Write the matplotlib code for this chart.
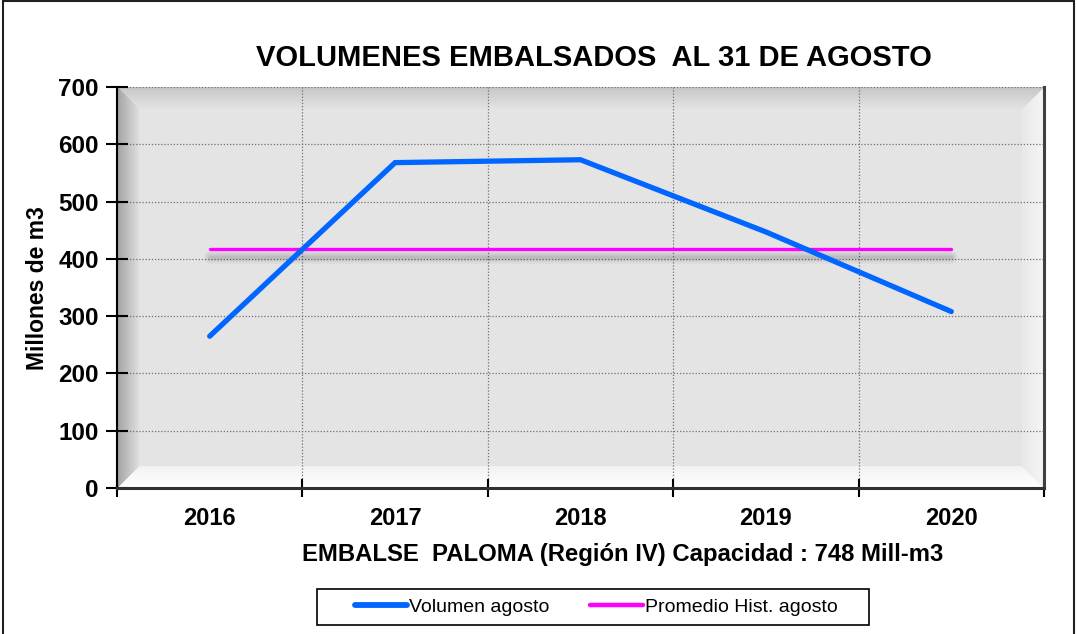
import numpy as np
import matplotlib
matplotlib.use("Agg")
import matplotlib.pyplot as plt
import matplotlib.patheffects as pe
from matplotlib.patches import Rectangle
from matplotlib.lines import Line2D

years = ["2016", "2017", "2018", "2019", "2020"]
volumen = [265, 568, 573, 447, 308]
promedio = [417, 417, 417, 417, 417]

titulo = "VOLUMENES EMBALSADOS  AL 31 DE AGOSTO"
xlabel = "EMBALSE  PALOMA (Región IV) Capacidad : 748 Mill-m3"
ylabel = "Millones de m3"
serie1 = "Volumen agosto"
serie2 = "Promedio Hist. agosto"

plt.rcParams['font.family'] = ['Liberation Sans', 'DejaVu Sans']

W, H = 1077, 634
fig = plt.figure(figsize=(W / 100, H / 100), dpi=100)

# plot area in pixels
x0, x1, y0, y1 = 117, 1044, 87, 488
ax = fig.add_axes([x0 / W, 1 - y1 / H, (x1 - x0) / W, (y1 - y0) / H])

# beveled grey background
pw, ph = x1 - x0, y1 - y0
yy, xx = np.mgrid[0:ph, 0:pw].astype(float)
bev = 22.0
dl, dr, dt, db = xx, pw - 1 - xx, yy, ph - 1 - yy
dmin = np.minimum(np.minimum(dl, dr), np.minimum(dt, db))
img = np.full((ph, pw), 0.895)
t = np.clip(dmin / bev, 0, 1)
inb = dmin < bev
left = inb & (dl == dmin)
top = inb & (dt == dmin) & ~left
right = inb & (dr == dmin) & ~left & ~top
bottom = inb & ~left & ~top & ~right
img[left] = (0.64 + (0.88 - 0.64) * t)[left]
img[top] = (0.78 + (0.895 - 0.78) * t)[top]
img[right] = (0.96 - (0.96 - 0.91) * t)[right]
img[bottom] = (1.0 - (1.0 - 0.95) * t)[bottom]
ax.imshow(np.dstack([img] * 3), extent=[0, 1, 0, 1], transform=ax.transAxes,
          aspect='auto', zorder=0, interpolation='bilinear')

x = np.arange(len(years))
shadow = [pe.SimpleLineShadow(offset=(0, -5.5), shadow_color='k', alpha=0.035, linewidth=w)
          for w in (9, 7, 5, 3.5, 2)]
ax.plot(x, promedio, color='#ff00ff', lw=2.4, zorder=3, solid_capstyle='round',
        path_effects=shadow + [pe.Normal()])
ax.plot(x, volumen, color='#0066ff', lw=3.8, zorder=4, solid_capstyle='round',
        solid_joinstyle='miter')

ax.set_xlim(-0.5, len(years) - 0.5)
ax.set_ylim(0, 700)
ax.set_yticks(range(0, 701, 100))
ax.set_xticks(np.arange(-0.5, len(years), 1.0))
ax.set_xticklabels([])
ax.set_xticks(x, minor=True)
ax.set_xticklabels(years, minor=True)
ax.tick_params(axis='x', which='minor', length=0, pad=14, labelsize=17)
ax.tick_params(axis='x', which='major', direction='inout', length=13, width=1.5)
ax.tick_params(axis='y', direction='inout', length=16, width=1.5, pad=5, labelsize=17.5)
for lab in ax.get_xticklabels(minor=True) + ax.get_yticklabels():
    lab.set_fontweight('bold')

ax.grid(True, which='major', color='#707070', lw=0.9, linestyle=(0, (1, 1.5)), zorder=1)
for gl in ax.get_xgridlines() + ax.get_ygridlines():
    gl.set_zorder(1)

ax.spines['top'].set_visible(False)
ax.spines['left'].set_linewidth(1.5)
ax.spines['left'].set_color('black')
ax.spines['bottom'].set_linewidth(2.2)
ax.spines['bottom'].set_color('#303030')
ax.spines['right'].set_linewidth(2.2)
ax.spines['right'].set_color('#404040')

fig.text(594 / W, 1 - 58 / H, titulo, ha='center', va='center', fontsize=21, fontweight='bold')
fig.text(623 / W, 1 - 555 / H, xlabel, ha='center', va='center', fontsize=17.2, fontweight='bold')
fig.text(38 / W, 1 - 288 / H, ylabel, ha='center', va='center', rotation=90,
         fontsize=16.5, fontweight='bold')

handles = [Line2D([], [], color='#0066ff', lw=4.2, solid_capstyle='round'),
           Line2D([], [], color='#ff00ff', lw=3.2, solid_capstyle='round')]
leg = fig.legend(handles, [serie1, serie2], loc='center', bbox_to_anchor=(596 / W, 1 - 607 / H),
                 ncol=2, fontsize=14, frameon=False,
                 handlelength=2.7, handletextpad=0.1, columnspacing=2.1)
fig.patches.append(Rectangle((317 / W, 1 - 625 / H), (869 - 317) / W, 36 / H,
                             transform=fig.transFigure, fill=False, edgecolor='black', lw=1.2))

fig.patches.append(Rectangle((3.5 / W, -0.01), 1070 / W, 1.01 - 1.0 / H,
                             transform=fig.transFigure, fill=False, edgecolor='#202020', lw=1.5))

fig.savefig("out.png", dpi=100)
